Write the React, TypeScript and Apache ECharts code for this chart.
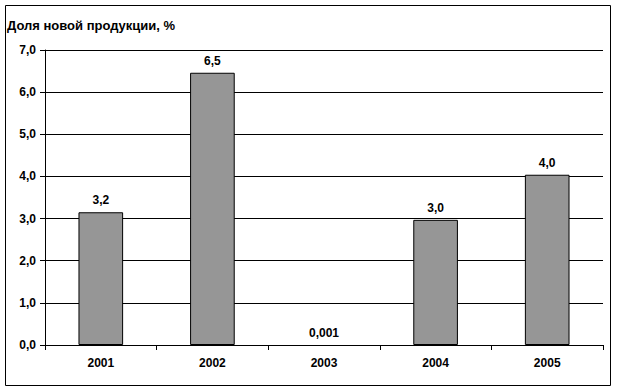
import React, { useEffect, useRef } from "react";
import * as echarts from "echarts";

const title = "Доля новой продукции, %";
const years = ["2001", "2002", "2003", "2004", "2005"];
const shares = [3.15, 6.46, 0.001, 2.97, 4.04];
const shareLabels = ["3,2", "6,5", "0,001", "3,0", "4,0"];
const yTicks = [0, 1, 2, 3, 4, 5, 6, 7];

const FONT = "'Liberation Sans', Arial, sans-serif";

export default function App() {
  const ref = useRef<HTMLDivElement>(null);
  useEffect(() => {
    if (!ref.current) return;
    const chart = echarts.init(ref.current, null, { renderer: "svg" });
    chart.setOption({
      animation: false,
      backgroundColor: "#ffffff",
      textStyle: { fontFamily: FONT },
      graphic: [
        {
          type: "rect",
          shape: { x: 5.5, y: 5.5, width: 605, height: 380 },
          style: { fill: "none", stroke: "#000", lineWidth: 1 },
          silent: true,
        },
        {
          type: "text",
          x: 7,
          y: 25,
          style: {
            text: title,
            font: `bold 13px ${FONT}`,
            fill: "#000",
            verticalAlign: "middle",
          },
        },
      ],
      grid: { left: 45, right: 16, top: 50, bottom: 46, containLabel: false },
      xAxis: {
        type: "category",
        data: years,
        axisLine: { show: true, lineStyle: { color: "#000", width: 1 } },
        axisTick: { show: true, length: 5, alignWithLabel: false, lineStyle: { color: "#000" } },
        axisLabel: { color: "#000", fontWeight: "bold", fontSize: 12, margin: 12, fontFamily: FONT },
        splitLine: { show: false },
      },
      yAxis: {
        type: "value",
        min: yTicks[0],
        max: yTicks[yTicks.length - 1],
        interval: 1,
        axisLine: { show: true, lineStyle: { color: "#000", width: 1 } },
        axisTick: { show: true, length: 5, lineStyle: { color: "#000" } },
        axisLabel: {
          color: "#000",
          fontWeight: "bold",
          fontSize: 12,
          margin: 9,
          fontFamily: FONT,
          formatter: (v: number) => v.toFixed(1).replace(".", ","),
        },
        splitLine: { show: true, lineStyle: { color: "#000", width: 1 } },
      },
      series: [
        {
          type: "bar",
          data: shares.map((v) => ({
            value: v,
            itemStyle: v < 0.01 ? { borderWidth: 0 } : undefined,
          })),
          barCategoryGap: "60%",
          itemStyle: { color: "#969696", borderColor: "#000", borderWidth: 1 },
          label: {
            show: true,
            position: "top",
            distance: 6,
            color: "#000",
            fontWeight: "bold",
            fontSize: 12,
            fontFamily: FONT,
            formatter: (p: any) => shareLabels[p.dataIndex],
          },
        },
      ],
    });
    return () => chart.dispose();
  }, []);
  return (
    <div
      ref={ref}
      style={{ position: "fixed", left: 0, top: 0, width: 619, height: 391 }}
    />
  );
}
